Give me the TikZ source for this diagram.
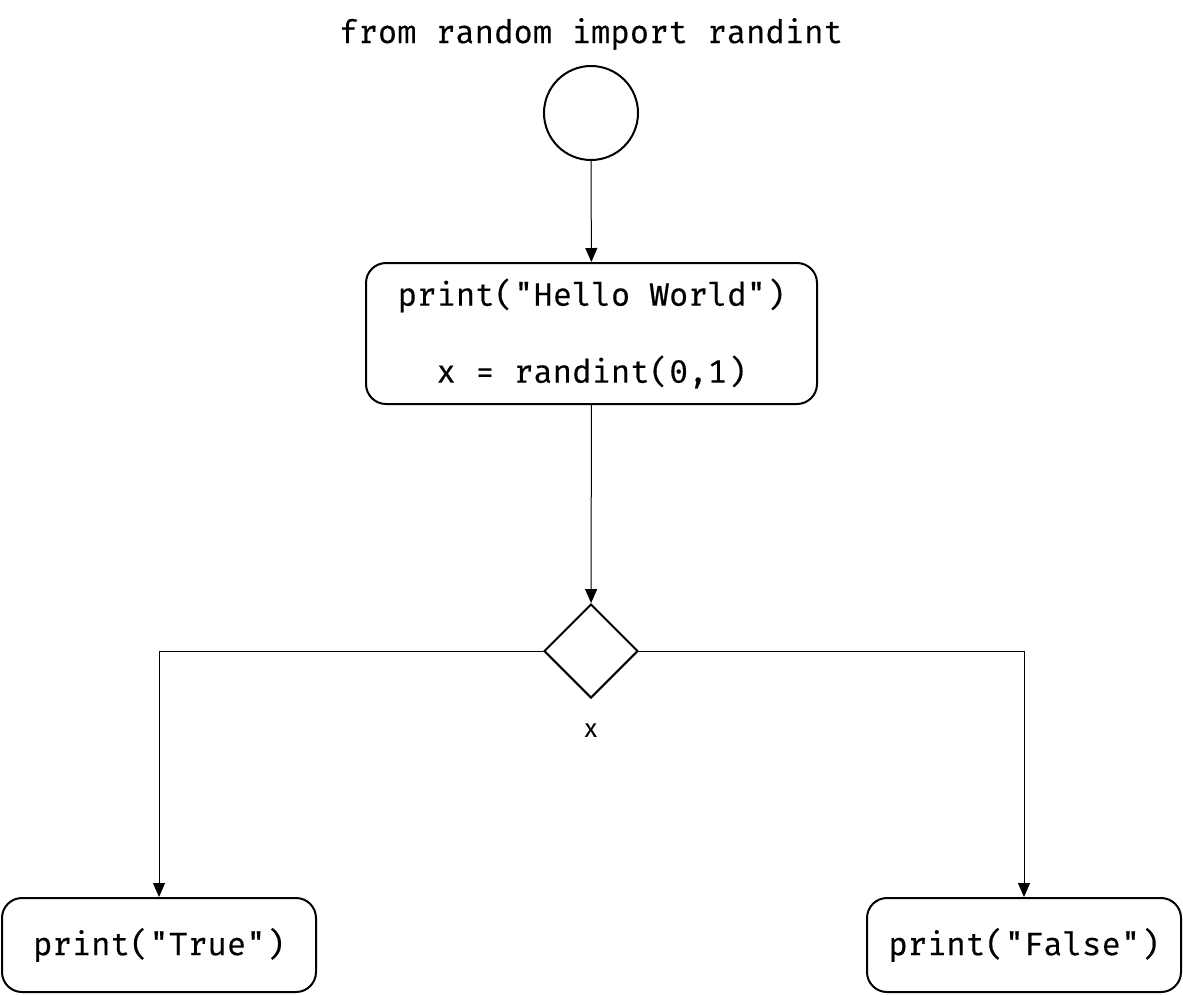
\documentclass[tikz,border=0pt]{standalone}
\usepackage{fontspec}
\newfontfamily\codefont[FakeBold=0.4]{Fira Mono}
\newfontfamily\labfont{Fira Sans}
\usetikzlibrary{arrows.meta,shapes.geometric}
\begin{document}
\begin{tikzpicture}[x=1pt,y=-1pt,
  code/.style={font=\codefont\fontsize{32.3}{38.5}\selectfont},
  shape line/.style={draw=black,line width=2pt},
  rbox/.style={shape line,rounded corners=20pt,inner sep=0pt,code,align=center},
  conn/.style={draw=black,line width=1pt,-{Triangle[length=14pt,width=12pt]}}]
\useasboundingbox (0,0) rectangle (1183,994);
\node[code] (title) at (591,34) {from random import randint};
\node[shape line,circle,minimum size=94pt,inner sep=0pt] (start) at (591,113) {};
\node[rbox,minimum width=451pt,minimum height=141pt] (hello) at (591.5,333.5)
  {print("Hello World")\\[38.5pt]x = randint(0,1)};
\node[shape line,diamond,minimum width=94pt,minimum height=94pt,inner sep=0pt] (dec) at (591,651) {};
\node[font=\labfont\fontsize{26}{30}\selectfont] (xlab) at (591,731) {x};
\node[rbox,minimum width=314pt,minimum height=94pt] (true) at (159,945) {print("True")};
\node[rbox,minimum width=314pt,minimum height=94pt] (false) at (1024,945) {print("False")};
\draw[conn] (start) -- (hello);
\draw[conn] (hello) -- (dec);
\draw[conn] (dec.west) -| (true.north);
\draw[conn] (dec.east) -| (false.north);
\end{tikzpicture}
\end{document}
